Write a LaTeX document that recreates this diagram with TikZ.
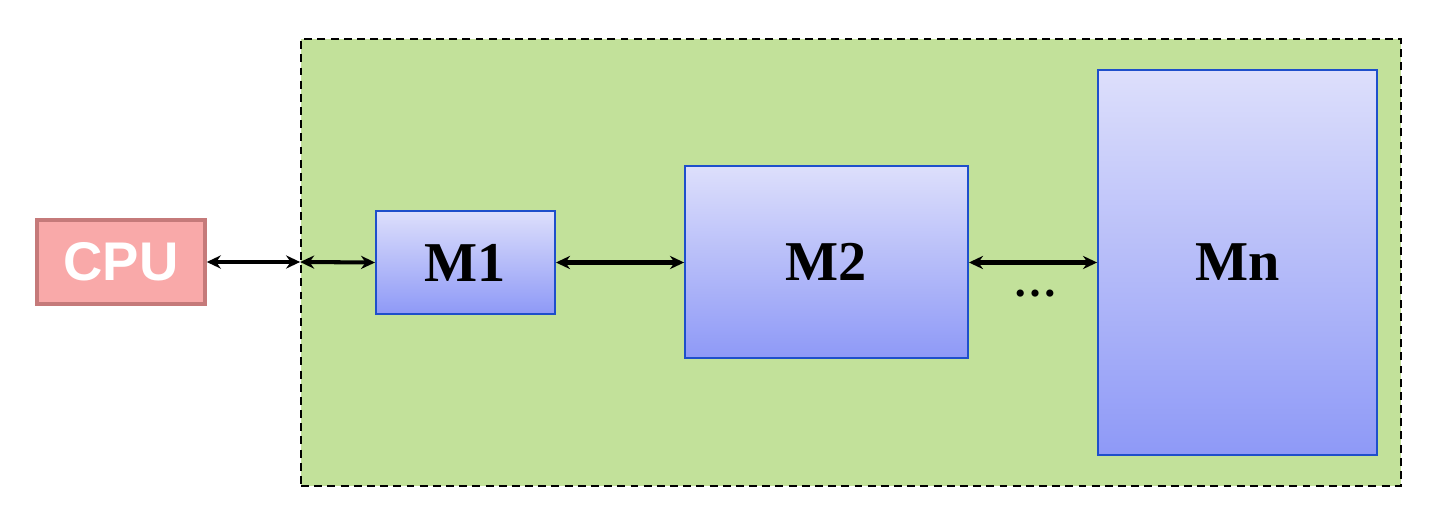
\documentclass[tikz,border=0pt]{standalone}
\usepackage{fontspec}
\usetikzlibrary{arrows.meta}
\setmainfont{Liberation Serif}
\setsansfont{Liberation Sans}
\definecolor{chipgreen}{HTML}{C2E19A}
\definecolor{cpufill}{HTML}{F9A9A9}
\definecolor{cpuline}{HTML}{C57A7A}
\definecolor{memline}{HTML}{1E4FCB}
\definecolor{memtop}{HTML}{DDDFFB}
\definecolor{membot}{HTML}{8E99F7}
\begin{document}
\begin{tikzpicture}[x=0.02cm, y=-0.02cm,
	mem/.style={draw=memline, line width=1.1pt, top color=memtop, bottom color=membot, font=\fontsize{32}{36}\selectfont\bfseries},
	link/.style={{Stealth[length=8pt,width=7.5pt]}-{Stealth[length=8pt,width=7.5pt]}, line width=2.3pt}]
		\useasboundingbox (0,0) rectangle (1439,527);
		\node[draw=black, dash pattern=on 4.5pt off 3pt, line width=1.1pt, fill=chipgreen, minimum width=22cm, minimum height=8.94cm] (chip) at (851,262.5) {};
		\node[draw=cpuline, line width=2pt, fill=cpufill, text=white, minimum width=3.36cm, minimum height=1.68cm, font=\sffamily\bfseries\fontsize{31}{34}\selectfont] (cpu) at (121,262) {CPU};
		\node[mem, minimum width=3.58cm, minimum height=2.06cm] (m1) at (465.5,262.5) {M1};
		\node[mem, minimum width=5.66cm, minimum height=3.84cm] (m2) at (826.5,262) {M2};
		\node[mem, minimum width=5.58cm, minimum height=7.7cm] (mn) at (1237.5,262.5) {Mn};
		\coordinate (port) at (chip.west |- cpu.east);
		\draw[link] (cpu.east) -- (port);
		\draw[link] (port) -- (m1.west);
		\draw[link] (m1.east) -- (m2.west |- m1.east);
		\draw[link] (m2.east |- m1.east) -- (mn.west |- m1.east);
		\node[font=\fontsize{25}{28}\selectfont\bfseries] (dots) at (1035,294) {\dots};
	\end{tikzpicture}
\end{document}
